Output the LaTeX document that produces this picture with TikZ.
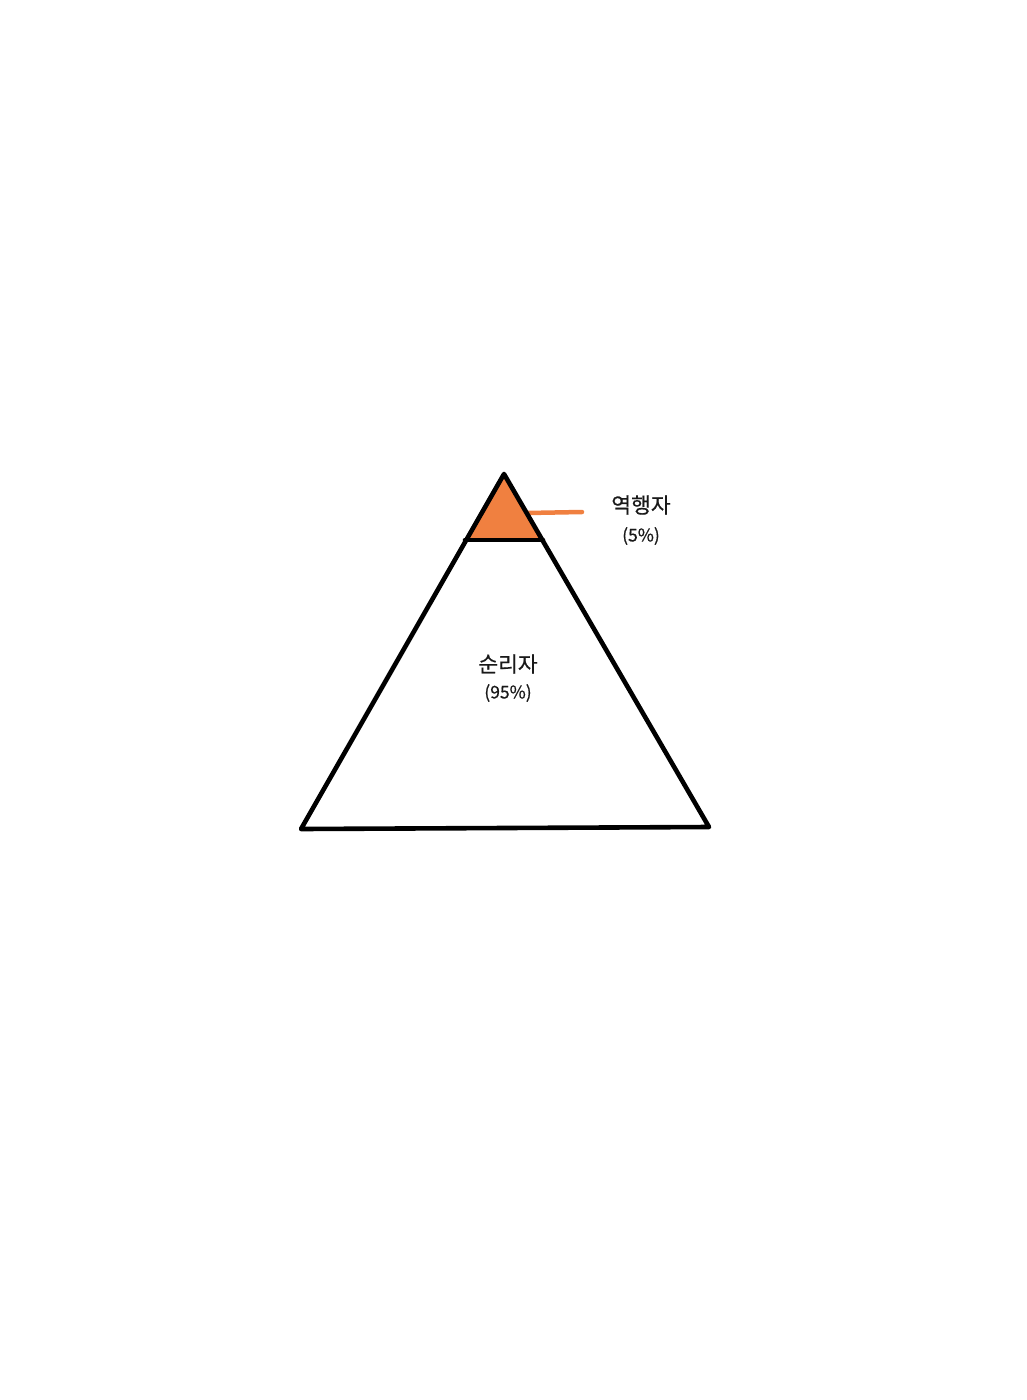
\documentclass[tikz,border=0pt]{standalone}
\usepackage{fontspec}
\newfontfamily\kr{Noto Sans CJK KR}[FakeBold=0.6]
\definecolor{tiporange}{RGB}{240,128,64}
\begin{document}
\begin{tikzpicture}[x=1pt,y=-1pt,
  outline/.style={line width=4.6pt,line join=round,line cap=round,black},
  lbl/.style={font=\kr\fontsize{21.5}{24}\selectfont,text=black!90},
  pct/.style={font=\kr\fontsize{17.5}{20}\selectfont,text=black!90}]
\useasboundingbox (0,0) rectangle (1026,1400);
\coordinate (apex) at (504,474);
\coordinate (bl) at (301,829);
\coordinate (br) at (709,827);
\coordinate (ml) at (465,540);
\coordinate (mr) at (543,540);
\coordinate (lineEnd) at (582,512);
\coordinate (lineStart) at (527,513);
\fill[tiporange] (apex) -- (ml) -- (mr) -- cycle;
\draw[tiporange,line width=4.5pt,line cap=round] (lineStart) -- (lineEnd);
\draw[outline] (apex) -- (bl) -- (br) -- cycle;
\draw[outline] (ml) -- (mr);
\node[lbl] (top) at (641,505) {역행자};
\node[pct] (toppct) at (641,536) {(5\%)};
\node[lbl] (main) at (508,664) {순리자};
\node[pct] (mainpct) at (508,693) {(95\%)};
\end{tikzpicture}
\end{document}
